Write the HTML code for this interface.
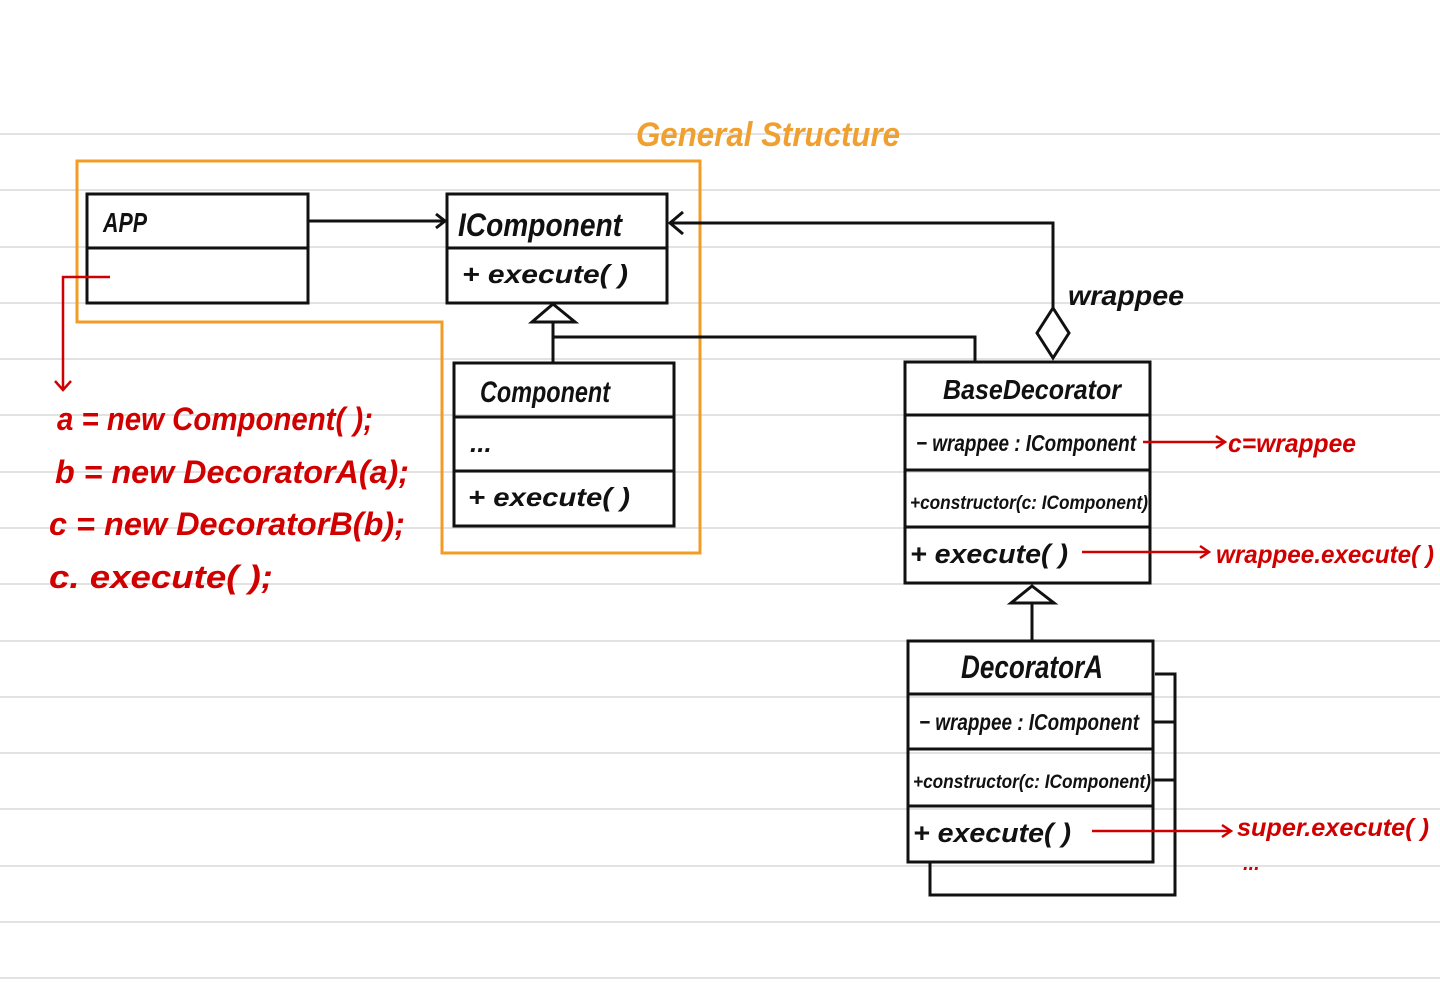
<!DOCTYPE html>
<html><head><meta charset="utf-8"><style>
html,body{margin:0;padding:0;background:#fff;}
svg{display:block}
text{font-family:"Liberation Sans",sans-serif;}
.b{fill:#111;font-weight:bold;font-style:italic}
.r{fill:#d10000;font-weight:bold;font-style:italic}
</style></head><body>
<svg width="1440" height="1000" viewBox="0 0 1440 1000" xmlns="http://www.w3.org/2000/svg">
<g stroke="#d8d8d8" stroke-width="1.5">
<line x1="0" x2="1440" y1="134" y2="134"/><line x1="0" x2="1440" y1="190" y2="190"/>
<line x1="0" x2="1440" y1="247" y2="247"/><line x1="0" x2="1440" y1="303" y2="303"/>
<line x1="0" x2="1440" y1="359" y2="359"/><line x1="0" x2="1440" y1="415" y2="415"/>
<line x1="0" x2="1440" y1="472" y2="472"/><line x1="0" x2="1440" y1="528" y2="528"/>
<line x1="0" x2="1440" y1="584" y2="584"/><line x1="0" x2="1440" y1="641" y2="641"/>
<line x1="0" x2="1440" y1="697" y2="697"/><line x1="0" x2="1440" y1="753" y2="753"/>
<line x1="0" x2="1440" y1="809" y2="809"/><line x1="0" x2="1440" y1="866" y2="866"/>
<line x1="0" x2="1440" y1="922" y2="922"/><line x1="0" x2="1440" y1="978" y2="978"/>
</g>
<text x="636" y="146" font-size="34" fill="#f0a030" font-style="italic" font-weight="bold" textLength="264" lengthAdjust="spacingAndGlyphs">General  Structure</text>
<polygon points="77,161 700,161 700,553 442,553 442,322 77,322" fill="none" stroke="#f39c25" stroke-width="3"/>
<g fill="none" stroke="#111" stroke-width="3">
<rect x="87" y="194" width="221" height="109"/><line x1="87" x2="308" y1="248" y2="248"/>
<rect x="447" y="194" width="220" height="109"/><line x1="447" x2="667" y1="248" y2="248"/>
<rect x="454" y="363" width="220" height="163"/><line x1="454" x2="674" y1="417" y2="417"/><line x1="454" x2="674" y1="471" y2="471"/>
<rect x="905" y="362" width="245" height="221"/><line x1="905" x2="1150" y1="415" y2="415"/><line x1="905" x2="1150" y1="470" y2="470"/><line x1="905" x2="1150" y1="527" y2="527"/>
<rect x="908" y="641" width="245" height="221"/><line x1="908" x2="1153" y1="694" y2="694"/><line x1="908" x2="1153" y1="749" y2="749"/><line x1="908" x2="1153" y1="806" y2="806"/>
<polyline points="1155,674 1175,674 1175,895 930,895 930,862"/>
<line x1="1153" x2="1175" y1="722" y2="722"/><line x1="1153" x2="1175" y1="780" y2="780"/>
<line x1="308" x2="444" y1="221" y2="221"/><polyline points="436,214 445,221 436,228"/>
<polyline points="1053,308 1053,223 671,223"/><polyline points="683,212 670,223 683,234"/>
<polygon points="1053,308 1069,333 1053,358 1037,333" fill="#fff"/>
<polygon points="553,304 575,322 532,322" fill="#fff"/>
<polyline points="553,322 553,363"/><polyline points="553,337 975,337 975,362"/>
<polygon points="1032,586 1054,603 1011,603" fill="#fff"/>
<line x1="1032" x2="1032" y1="603" y2="641"/>
</g>
<g fill="none" stroke="#d10000" stroke-width="2.5">
<polyline points="110,277 63,277 63,389"/><polyline points="55,381 63,390 71,381"/>
<line x1="1143" x2="1224" y1="442" y2="442"/><polyline points="1216,436 1225,442 1216,448"/>
<line x1="1082" x2="1208" y1="552" y2="552"/><polyline points="1200,546 1209,552 1200,558"/>
<line x1="1092" x2="1230" y1="831" y2="831"/><polyline points="1222,825 1231,831 1222,837"/>
</g>
<text class="b" x="103" y="232" font-size="28" textLength="44" lengthAdjust="spacingAndGlyphs">APP</text>
<text class="b" x="458" y="236" font-size="32" textLength="164" lengthAdjust="spacingAndGlyphs">IComponent</text>
<text class="b" x="462" y="283" font-size="26" textLength="166" lengthAdjust="spacingAndGlyphs">+ execute( )</text>
<text class="b" x="480" y="402" font-size="30" textLength="130" lengthAdjust="spacingAndGlyphs">Component</text>
<text class="b" x="470" y="452" font-size="26">...</text>
<text class="b" x="468" y="506" font-size="26" textLength="162" lengthAdjust="spacingAndGlyphs">+ execute( )</text>
<text class="b" x="943" y="399" font-size="28" textLength="178" lengthAdjust="spacingAndGlyphs">BaseDecorator</text>
<text class="b" x="916" y="451" font-size="23" textLength="220" lengthAdjust="spacingAndGlyphs">− wrappee : IComponent</text>
<text class="b" x="910" y="509" font-size="19" textLength="238" lengthAdjust="spacingAndGlyphs">+constructor(c: IComponent)</text>
<text class="b" x="910" y="563" font-size="27" textLength="158" lengthAdjust="spacingAndGlyphs">+ execute( )</text>
<text class="b" x="961" y="678" font-size="32" textLength="142" lengthAdjust="spacingAndGlyphs">DecoratorA</text>
<text class="b" x="919" y="730" font-size="23" textLength="220" lengthAdjust="spacingAndGlyphs">− wrappee : IComponent</text>
<text class="b" x="913" y="788" font-size="19" textLength="238" lengthAdjust="spacingAndGlyphs">+constructor(c: IComponent)</text>
<text class="b" x="913" y="842" font-size="27" textLength="158" lengthAdjust="spacingAndGlyphs">+ execute( )</text>
<text class="b" x="1068" y="305" font-size="28" textLength="116" lengthAdjust="spacingAndGlyphs">wrappee</text>
<text class="r" x="1228" y="452" font-size="26" textLength="128" lengthAdjust="spacingAndGlyphs">c=wrappee</text>
<text class="r" x="1216" y="563" font-size="25" textLength="218" lengthAdjust="spacingAndGlyphs">wrappee.execute( )</text>
<text class="r" x="1237" y="836" font-size="25" textLength="192" lengthAdjust="spacingAndGlyphs">super.execute( )</text>
<text class="r" x="1243" y="870" font-size="20">...</text>
<text class="r" x="57" y="430" font-size="32" textLength="316" lengthAdjust="spacingAndGlyphs">a = new  Component( );</text>
<text class="r" x="55" y="483" font-size="32" textLength="354" lengthAdjust="spacingAndGlyphs">b = new  DecoratorA(a);</text>
<text class="r" x="49" y="535" font-size="32" textLength="356" lengthAdjust="spacingAndGlyphs">c = new  DecoratorB(b);</text>
<text class="r" x="49" y="588" font-size="32" textLength="224" lengthAdjust="spacingAndGlyphs">c. execute( );</text>
</svg>
</body></html>
